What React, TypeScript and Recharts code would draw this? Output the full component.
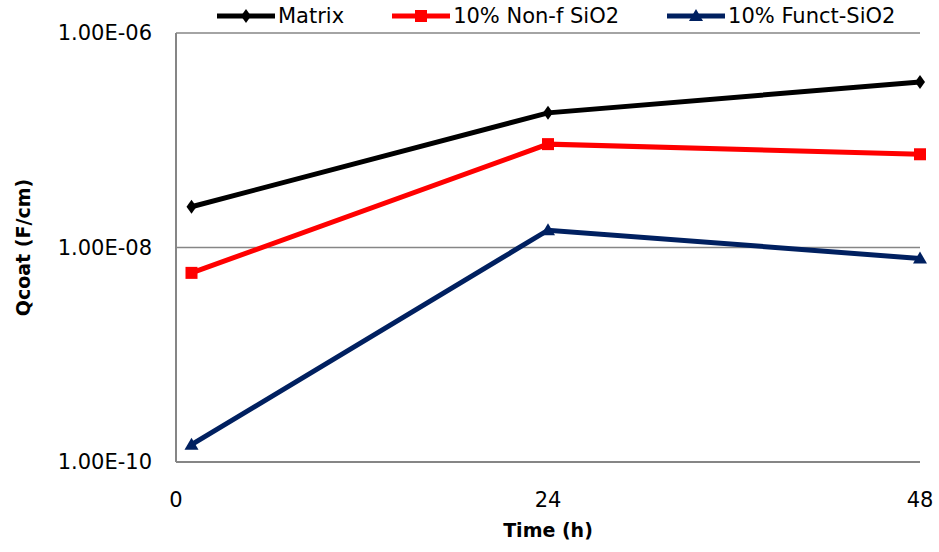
import React from 'react';
import { LineChart, Line, XAxis, YAxis, CartesianGrid } from 'recharts';

const hours = [1, 24, 48];
const matrix = [2.4e-8, 1.8e-7, 3.5e-7];
const nonFunct = [5.8e-9, 9.2e-8, 7.4e-8];
const funct = [1.45e-10, 1.45e-8, 7.9e-9];
const xTicks = [0, 24, 48];
const yTicks = [1e-10, 1e-8, 1e-6];

const series = [
  { key: 'matrix', name: 'Matrix', color: '#000000', shape: 'diamond', values: matrix },
  { key: 'nonf', name: '10% Non-f SiO2', color: '#ff0000', shape: 'square', values: nonFunct },
  { key: 'funct', name: '10% Funct-SiO2', color: '#002060', shape: 'triangle', values: funct },
];

const data = hours.map((h, i) => {
  const row: Record<string, number> = { h };
  series.forEach((s) => (row[s.key] = s.values[i]));
  return row;
});

const FONT = '"DejaVu Sans", Verdana, sans-serif';
const AXIS = '#868686';

function fmtExp(v: number) {
  const e = Math.round(Math.log10(v));
  const m = v / Math.pow(10, e);
  const sign = e < 0 ? '-' : '+';
  return `${m.toFixed(2)}E${sign}${String(Math.abs(e)).padStart(2, '0')}`;
}

function Marker({ shape, cx, cy, color }: { shape: string; cx: number; cy: number; color: string }) {
  if (shape === 'square') return <rect x={cx - 6} y={cy - 6} width={12} height={12} fill={color} />;
  if (shape === 'triangle')
    return <polygon points={`${cx},${cy - 7} ${cx + 7},${cy + 5} ${cx - 7},${cy + 5}`} fill={color} />;
  return <polygon points={`${cx},${cy - 7} ${cx + 5},${cy} ${cx},${cy + 7} ${cx - 5},${cy}`} fill={color} />;
}

const makeDot = (shape: string, color: string) => (props: any) => {
  const { cx, cy, index } = props;
  if (cx == null || cy == null) return <g key={index} />;
  return <Marker key={index} shape={shape} cx={cx} cy={cy} color={color} />;
};

// legend sits over the top strip, outside recharts layout so the plot keeps its top at 33px
const ChartLegend = () => (
  <div style={{ position: 'absolute', top: 0, left: 217, height: 32, display: 'flex', alignItems: 'center', fontFamily: FONT, fontSize: 21, color: '#000' }}>
    {series.map((s, i) => (
      <div key={s.key} style={{ display: 'flex', alignItems: 'center', marginRight: i < series.length - 1 ? 48 : 0 }}>
        <svg width={58} height={16} style={{ marginRight: 3 }}>
          <line x1={0} y1={8} x2={58} y2={8} stroke={s.color} strokeWidth={5} />
          <Marker shape={s.shape} cx={29} cy={8} color={s.color} />
        </svg>
        <span style={{ lineHeight: '24px' }}>{s.name}</span>
      </div>
    ))}
  </div>
);

export default function App() {
  return (
    <div style={{ position: 'relative', width: 939, height: 552, background: '#fff' }}>
      <style>{`body{margin:0}`}</style>
      <LineChart width={939} height={552} data={data} margin={{ top: 33, right: 19, bottom: 0, left: 0 }}>
        <CartesianGrid vertical={false} stroke={AXIS} strokeWidth={1.5} />
        <XAxis
          dataKey="h"
          type="number"
          domain={[0, 48]}
          ticks={xTicks}
          height={90}
          axisLine={{ stroke: AXIS, strokeWidth: 2 }}
          tickLine={false}
          tickSize={28}
          tickMargin={2}
          tick={{ fill: '#000', fontSize: 21, fontFamily: FONT }}
          label={{ value: 'Time (h)', position: 'insideBottom', offset: 15, style: { fontFamily: FONT, fontSize: 19, fontWeight: 'bold', fill: '#000' } }}
        />
        <YAxis
          scale="log"
          domain={[1e-10, 1e-6]}
          allowDataOverflow
          ticks={yTicks}
          width={176}
          tickFormatter={fmtExp}
          axisLine={{ stroke: AXIS, strokeWidth: 2 }}
          tickLine={false}
          tickSize={22}
          tickMargin={2}
          tick={{ fill: '#000', fontSize: 21, fontFamily: FONT }}
          label={{ value: 'Qcoat (F/cm)', angle: -90, position: 'insideLeft', offset: 23, style: { textAnchor: 'middle', fontFamily: FONT, fontSize: 19, fontWeight: 'bold', fill: '#000' } }}
        />
        {series.map((s) => (
          <Line
            key={s.key}
            dataKey={s.key}
            name={s.name}
            stroke={s.color}
            strokeWidth={5}
            dot={makeDot(s.shape, s.color)}
            activeDot={false}
            isAnimationActive={false}
          />
        ))}
      </LineChart>
      <ChartLegend />
    </div>
  );
}
